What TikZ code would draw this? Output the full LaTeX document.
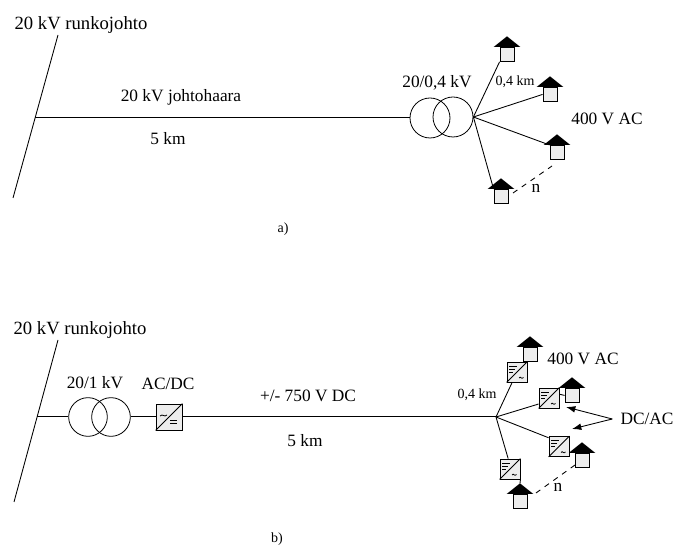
\documentclass[tikz,border=0pt]{standalone}
\usepackage{fontspec}
\setmainfont{Liberation Serif}
\usetikzlibrary{arrows.meta}

\tikzset{
  lbl/.style={inner sep=1pt,font=\fontsize{13}{15}\selectfont},
  lblwide/.style={inner sep=1pt,font=\fontsize{14}{16}\selectfont},
  lblsmall/.style={inner sep=1pt,font=\fontsize{10.5}{12}\selectfont},
  wire/.style={line width=0.65pt},
  feeder/.style={line width=0.75pt},
  coil/.style={circle,draw,line width=0.6pt,inner sep=0pt,minimum size=#1},
  hbody/.style={draw,fill=black!7,line width=0.65pt,inner sep=0pt,minimum size=10.5pt},
  cbox/.style={draw,fill=black!7,line width=0.65pt,inner sep=0pt,minimum size=#1},
  link/.style={wire,dash pattern=on 4pt off 4pt}
}
% house: name, x, eave y
\newcommand{\house}[3]{
  \node[hbody,anchor=north] (#1) at (#2,#3) {};
  \coordinate (#1top) at ([yshift=8pt]#1.north);
  \fill ([xshift=-10pt]#1.north) -- ([xshift=10pt]#1.north) -- (#1top) -- cycle;
}
% converter with dc bars top left, ac mark bottom right
\newcommand{\dcac}[3]{
  \node[cbox=15pt] (#1) at (#2,#3) {};
  \draw[wire] (#1.south west) -- (#1.north east);
  \begin{scope}[shift={(#1.center)}]
    \draw[line width=0.5pt] (-8,-6) -- (0,-6) (-8,-3) -- (-2,-3) (-8,0) -- (-4,0);
    \draw[line width=0.6pt] (2,6) .. controls (3.5,3.5) and (4.5,8) .. (6.5,5.5);
  \end{scope}
}
% same box the other way round
\newcommand{\acdc}[3]{
  \node[cbox=19.5pt] (#1) at (#2,#3) {};
  \draw[wire] (#1.south west) -- (#1.north east);
  \begin{scope}[shift={(#1.center)}]
    \draw[line width=0.6pt] (-9,-1) .. controls (-6,-4) and (-5,1) .. (-2,-2);
    \draw[line width=0.6pt] (1,3) -- (8,3) (1,6) -- (8,6);
  \end{scope}
}

\begin{document}
\begin{tikzpicture}[>={Latex[length=7pt,width=5pt]},x=0.75pt,y=-0.75pt]
  \useasboundingbox (0,0) rectangle (676,545);
  % a) ac branch
  \begin{scope}
    \coordinate (ru1) at (58,35);
    \coordinate (ru2) at (13,198);
    \coordinate (ub) at (35,118);
    \draw[wire] (ru1) -- (ru2);
    \node[coil=30pt] (ut1) at (430,118) {};
    \node[coil=30pt] (ut2) at (453,117) {};
    \draw[feeder] (ub) -- (ut1.west);
    \node[lblwide] (urun) at (81,25) {20 kV runkojohto};
    \node[lbl] (uhaa) at (181,97) {20 kV johtohaara};
    \node[lbl] (ukm) at (168,139) {5 km};
    \node[lbl] (utr) at (437,83) {20/0,4 kV};
    \node[lblsmall] (ukm2) at (515,82) {0,4 km};
    \node[lbl] (uac) at (607,119) {400 V AC};
    \node[lbl] (un) at (536,188) {n};
    \node[lblsmall] (ua) at (283,229) {a)};
    \house{uh1}{507}{47}
    \house{uh2}{550}{87}
    \house{uh3}{557}{145}
    \house{uh4}{501}{189}
    \draw[wire] (ut2.east) -- (uh1.south west);
    \draw[wire] (ut2.east) -- (uh2.west);
    \draw[wire] (ut2.east) -- (uh3.north west);
    \draw[wire] (ut2.east) -- (uh4.north west);
    \coordinate (ud1) at (513,193);
    \coordinate (ud2) at (552,166);
    \draw[link] (ud1) -- (ud2);
  \end{scope}
  % b) dc branch
  \begin{scope}
    \coordinate (lr1) at (58,340);
    \coordinate (lr2) at (14,502);
    \coordinate (lb) at (37,417);
    \coordinate (lj) at (496,417);
    \draw[wire] (lr1) -- (lr2);
    \node[coil=29pt] (lt1) at (88,417) {};
    \node[coil=29pt] (lt2) at (111,417) {};
    \acdc{lc0}{169}{417}
    \draw[feeder] (lb) -- (lt1.west);
    \draw[feeder] (lt2.east) -- (lc0.west);
    \draw[feeder] (lc0.east) -- (lj);
    \node[lblwide] (lrun) at (80,330) {20 kV runkojohto};
    \node[lbl] (ltr) at (95,383) {20/1 kV};
    \node[lbl] (lconv) at (168,384) {AC/DC};
    \node[lbl] (ldc) at (308,396) {+/- 750 V DC};
    \node[lbl] (lkm) at (305,441) {5 km};
    \node[lblsmall] (lkm2) at (477,395) {0,4 km};
    \node[lbl] (lac) at (583,359) {400 V AC};
    \node[lbl] (ln) at (558,487) {n};
    \node[lblsmall] (lb2) at (277,539) {b)};
    \node[lbl,inner xsep=6pt] (ldcac) at (647,419) {DC/AC};
    \house{lh1}{530}{347}
    \house{lh2}{572}{388}
    \house{lh3}{582}{453}
    \house{lh4}{520}{494}
    \dcac{lc1}{517}{372}
    \dcac{lc2}{549}{398}
    \dcac{lc3}{559}{446.5}
    \dcac{lc4}{510}{469}
    \draw[wire] (lj) -- (lc1.-115);
    \draw[wire] (lj) -- (lc2.210);
    \draw[wire] (lj) -- (lc3.140);
    \draw[wire] (lj) -- (lc4.100);
    \draw[wire] (lc2.20) -- (lh2.west);
    \draw[wire] (lc4.south east) -- (lh4top);
    \coordinate (ld1) at (536,493);
    \coordinate (ld2) at (575,465);
    \draw[link] (ld1) -- (ld2);
    \coordinate (la1) at (566,407);
    \coordinate (la2) at (572,429);
    \draw[wire,->] (ldcac.west) -- (la1);
    \draw[wire,->] (ldcac.west) -- (la2);
  \end{scope}
\end{tikzpicture}
\end{document}
